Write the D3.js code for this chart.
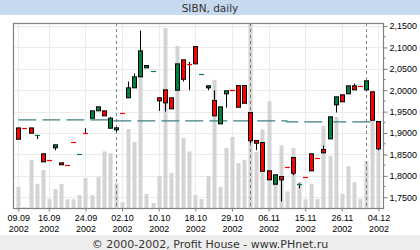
<!DOCTYPE html>
<html>
<head>
<meta charset="utf-8">
<script src="https://cdn.jsdelivr.net/npm/d3@7"></script>
<style>
  body { margin: 0; background: #fff; }
  svg { display: block; }
</style>
</head>
<body>
<div id="chart"></div>
<script>
// SIBN daily, 09.09.2002 - 04.12.2002 (one entry per trading bar)
var opens  = [1.9120,1.9125,1.9120,1.8958,1.8515,1.8383,1.8655,1.8305,1.8263,1.8798,
              1.8513,1.9008,1.9346,1.9519,1.9519,1.9113,1.9075,1.9475,1.9823,2.0056,
              2.0313,2.0523,2.0451,1.9823,2.0009,1.9823,2.0000,2.0710,2.0619,2.1020,
              2.0381,2.0056,1.9760,1.9215,1.9916,2.0012,2.0110,2.0110,1.9479,1.8826,
              1.8779,1.8118,1.7805,1.7985,1.8215,1.8429,1.7820,1.7988,1.8515,1.8432,
              1.8615,1.8865,1.9659,1.9893,1.9916,2.0103,2.0106,2.0009,1.9963,1.9269];
var highs  = [1.9120,1.9125,1.9120,1.8962,1.8515,1.8383,1.8725,1.8305,1.8263,1.8798,
              1.8515,1.9113,1.9519,1.9612,1.9519,1.9370,1.9122,1.9475,2.0203,2.0390,
              2.1394,2.0577,2.0453,1.9823,2.0009,1.9823,2.0616,2.0710,2.0660,2.1020,
              2.0383,2.0103,2.0000,1.9612,1.9986,2.0012,2.0110,2.0110,1.9479,1.8826,
              1.8779,1.8118,1.8025,1.7985,1.8215,1.8429,1.7822,1.7988,1.8515,1.8432,
              1.8709,1.9379,1.9846,1.9893,2.0103,2.0156,2.0106,2.0220,1.9963,1.9269];
var lows   = [1.8856,1.9120,1.8996,1.8860,1.8328,1.8380,1.8600,1.8258,1.8260,1.8795,
              1.8513,1.9005,1.9346,1.9519,1.9402,1.9113,1.9029,1.9472,1.9823,2.0056,
              2.0313,2.0523,2.0451,1.9519,1.9503,1.9566,2.0000,2.0203,2.0000,2.0616,
              2.0381,2.0000,1.9402,1.9215,1.9596,2.0009,1.9603,1.9696,1.8763,1.8600,
              1.8109,1.7908,1.7805,1.7401,1.8212,1.8015,1.7712,1.7985,1.8118,1.8429,
              1.8538,1.8865,1.9479,1.9729,1.9916,2.0009,2.0103,2.0009,1.9300,1.8600];
var closes = [1.8856,1.9120,1.8996,1.8962,1.8328,1.8380,1.8725,1.8258,1.8260,1.8795,
              1.8515,1.9005,1.9519,1.9612,1.9402,1.9346,1.9122,1.9472,2.0056,2.0313,
              2.0920,2.0577,2.0453,1.9752,1.9706,1.9566,2.0616,2.0257,2.0616,2.0616,
              2.0383,2.0103,1.9402,1.9612,1.9986,2.0009,1.9603,1.9696,1.8819,1.8763,
              1.8109,1.7908,1.8025,1.7908,1.8212,1.8062,1.7822,1.7985,1.8118,1.8429,
              1.8538,1.9379,1.9846,1.9729,2.0103,2.0009,2.0103,2.0220,1.9300,1.8632];
// volume, relative units (largest bar = 100)
var volumes = [11.4,0.4,25.9,13.0,20.5,4.9,10.3,13.0,4.7,4.7,
               7.0,16.2,6.9,16.8,30.6,29.6,13.4,3.1,42.7,35.7,
               77.0,7.6,2.7,17.3,97.3,18.9,87.6,37.8,30.6,7.0,
               4.9,17.3,69.2,11.4,32.4,38.4,24.3,26.1,100,30.3,
               42.5,57.7,18.4,33.9,9.0,32.3,14.1,4.7,13.0,4.9,
               44.3,28.1,49.2,7.6,22.5,13.9,4.9,25.2,53.0,32.1];

var tickBars   = [0, 5, 11, 17, 23, 29, 35, 41, 47, 53, 59];
var tickDates  = ["09.09","16.09","24.09","02.10","10.10","18.10","29.10","06.11","15.11","26.11","04.12"];
var tickYear   = "2002";
var monthBars  = [16, 38, 57];              // first trading day of a month
var avgBars    = [0, 15, 44, 58];           // stepped average line
var avgValues  = [1.9309, 1.9286, 1.9262, 1.9262];
var priceTicks = [1.75, 1.80, 1.85, 1.90, 1.95, 2.00, 2.05, 2.10, 2.15];

var width = 420, height = 250;
var plotLeft = 13, plotRight = 383, plotTop = 23, plotBottom = 208;

var svg = d3.select("#chart").append("svg")
    .attr("width", width)
    .attr("height", height);

// title band
svg.append("rect").attr("x", 0).attr("y", 0).attr("width", width).attr("height", 15)
    .attr("fill", "#c6d9ee");
svg.append("text")
    .attr("x", width / 2).attr("y", 11.5)
    .attr("text-anchor", "middle")
    .style("font-family", "DejaVu Sans").style("font-size", "10.5px")
    .attr("fill", "#333")
    .text("SIBN, daily");

// footer band
svg.append("rect").attr("x", 0).attr("y", 235).attr("width", width).attr("height", 15)
    .attr("fill", "#eeeeee");
svg.append("text")
    .attr("x", width / 2).attr("y", 247.5)
    .attr("text-anchor", "middle")
    .style("font-family", "DejaVu Sans").style("font-size", "11px")
    .attr("fill", "#333")
    .text("\u00a9 2000-2002, Profit House - www.PHnet.ru");

var bars = d3.range(opens.length).map(function (i) {
    return { i: i, o: opens[i], h: highs[i], l: lows[i], c: closes[i], v: volumes[i] };
});

var x = d3.scaleLinear().domain([-0.87, 59.75]).range([plotLeft, plotRight]);
var y = d3.scaleLinear().domain([1.725, 2.157]).range([plotBottom, plotTop]);
var yVol = d3.scaleLinear().domain([0, 100]).range([plotBottom, plotTop]);

var g = svg.append("g");

// grid
g.selectAll(".hgrid").data(priceTicks).enter().append("line")
    .attr("x1", plotLeft).attr("x2", plotRight)
    .attr("y1", function (d) { return Math.round(y(d)) + 0.5; })
    .attr("y2", function (d) { return Math.round(y(d)) + 0.5; })
    .attr("stroke", "#ebebeb");
g.selectAll(".vgrid").data(tickBars).enter().append("line")
    .attr("y1", plotTop).attr("y2", plotBottom)
    .attr("x1", function (d) { return Math.round(x(d)) + 0.5; })
    .attr("x2", function (d) { return Math.round(x(d)) + 0.5; })
    .attr("stroke", "#ebebeb");

// volume
g.selectAll(".vol").data(bars).enter().append("rect")
    .attr("x", function (d) { return Math.round(x(d.i)) - 1.5; })
    .attr("width", 4)
    .attr("y", function (d) { return yVol(d.v); })
    .attr("height", function (d) { return plotBottom - yVol(d.v); })
    .attr("fill", "#d4d4d4");

// month separators
g.selectAll(".month").data(monthBars).enter().append("line")
    .attr("y1", plotTop).attr("y2", plotBottom)
    .attr("x1", function (d) { return Math.round(x(d)) + 0.5; })
    .attr("x2", function (d) { return Math.round(x(d)) + 0.5; })
    .attr("stroke", "#808080")
    .attr("stroke-dasharray", "3,3");

// average line
var avgLine = d3.line()
    .x(function (d, i) { return x(avgBars[i]); })
    .y(function (d) { return y(d); })
    .curve(d3.curveStepAfter);
g.append("path")
    .attr("d", avgLine(avgValues))
    .attr("fill", "none")
    .attr("stroke", "#3f8080")
    .attr("stroke-width", 1.2)
    .attr("stroke-dasharray", "18,6");

// candles
var candle = g.selectAll(".candle").data(bars).enter().append("g");

function color(d) { return d.c >= d.o ? "#00803f" : "#ff0000"; }
function flat(d) { return Math.abs(y(d.o) - y(d.c)) < 1; }

candle.filter(function (d) { return d.h > Math.max(d.o, d.c) || d.l < Math.min(d.o, d.c); })
    .append("line")
    .attr("x1", function (d) { return Math.round(x(d.i)) + 0.5; })
    .attr("x2", function (d) { return Math.round(x(d.i)) + 0.5; })
    .attr("y1", function (d) { return y(d.h); })
    .attr("y2", function (d) { return y(d.l); })
    .attr("stroke", "#000");

candle.filter(function (d) { return !flat(d); })
    .append("rect")
    .attr("x", function (d) { return Math.round(x(d.i)) - 1.5; })
    .attr("width", 4)
    .attr("y", function (d) { return y(Math.max(d.o, d.c)); })
    .attr("height", function (d) { return y(Math.min(d.o, d.c)) - y(Math.max(d.o, d.c)); })
    .attr("fill", color)
    .attr("stroke", "#000");

candle.filter(flat)
    .append("line")
    .attr("x1", function (d) { return Math.round(x(d.i)) - 2; })
    .attr("x2", function (d) { return Math.round(x(d.i)) + 3; })
    .attr("y1", function (d) { return Math.round(y(d.c)) + 0.5; })
    .attr("y2", function (d) { return Math.round(y(d.c)) + 0.5; })
    .attr("stroke", color)
    .attr("stroke-width", 1.2);

// frame
g.append("rect")
    .attr("x", plotLeft + 0.5).attr("y", plotTop + 0.5)
    .attr("width", plotRight - plotLeft).attr("height", plotBottom - plotTop)
    .attr("fill", "none")
    .attr("stroke", "#808080")
    .attr("stroke-width", 1.2);

// right price axis
var yAxis = d3.axisRight(y)
    .tickValues(priceTicks)
    .tickSize(4)
    .tickPadding(2)
    .tickFormat(function (d) { return d3.format(".4f")(d).replace(".", ","); });
var ya = svg.append("g")
    .attr("transform", "translate(" + (plotRight + 0.5) + ",0)")
    .call(yAxis);
ya.select(".domain").remove();
ya.selectAll("line").attr("stroke", "#808080");
ya.selectAll("text")
    .style("font-family", "Liberation Sans").style("font-size", "9px")
    .attr("fill", "#000");
svg.selectAll(".minor").data(priceTicks.slice(1)).enter().append("line")
    .attr("x1", plotRight).attr("x2", plotRight + 2.5)
    .attr("y1", function (d) { return y(d - 0.025); })
    .attr("y2", function (d) { return y(d - 0.025); })
    .attr("stroke", "#808080");

// bottom date axis
var xAxis = d3.axisBottom(x)
    .tickValues(tickBars)
    .tickSize(3)
    .tickFormat(function (d, i) { return tickDates[i]; });
var xa = svg.append("g")
    .attr("transform", "translate(0," + (plotBottom + 0.5) + ")")
    .call(xAxis);
xa.select(".domain").remove();
xa.selectAll("line").attr("stroke", "#808080");
xa.selectAll("text")
    .style("font-family", "Liberation Sans").style("font-size", "9px")
    .attr("fill", "#000")
    .attr("dy", "0.71em")
    .each(function () {
        d3.select(this).append("tspan")
            .attr("x", 0).attr("dy", "1.25em")
            .text(tickYear);
    });
</script>
</body>
</html>
